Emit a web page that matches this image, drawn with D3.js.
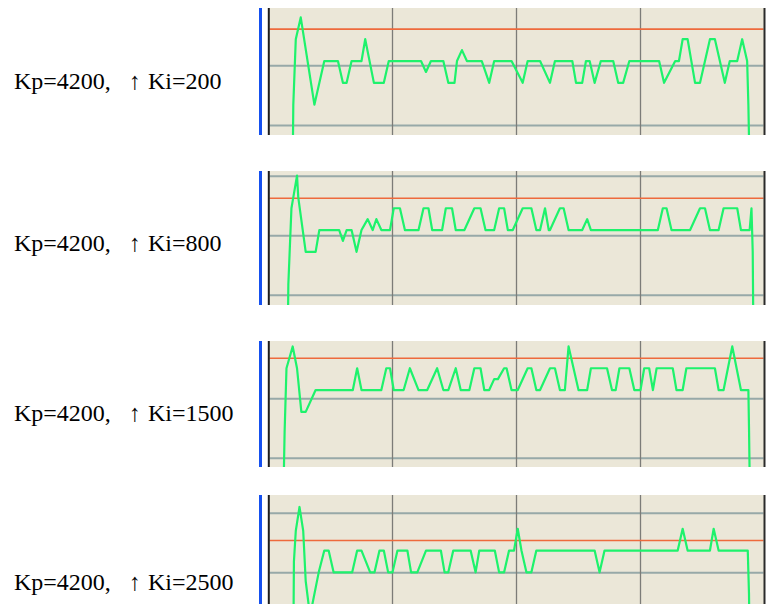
<!DOCTYPE html>
<html>
<head>
<meta charset="utf-8">
<script src="https://cdn.jsdelivr.net/npm/d3@7"></script>
<style>
  body { margin: 0; background: #fff; }
  svg { display: block; }
  .label { font-family: "Liberation Serif", "Times New Roman", serif; font-size: 24px; }
</style>
</head>
<body>
<div id="chart"></div>
<script>
/* speed step responses, Kp fixed, Ki stepped up */
var kp = 4200;
var kiValues = [200, 800, 1500, 2500];
var setpoint = 1.46;                       // reference level (encoder counts)
var timeTicks = [0, 100, 200, 300, 400];   // ms, one scope division each
var gridStep = 2.73;                       // counts per scope division
var gridBase = [-0.22, -0.26, -0.40, -0.02];
var viewMax = [2.43, 2.71, 2.25, 3.55];
var viewMin = [-3.39, -3.44, -3.53, -1.82];

// [time ms, speed counts]
var trace200 = [[19,-8],[20,-2],[22,1],[26,2],[37,-2],[45,0],[56,0],[60,-1],[63,-1],[67,0],[75,0],[78,1],[85,-1],[93,-1],[97,0],
  [123,0],[127,-0.5],[131,0],[141,0],[145,-1],[150,-1],[152,0],[156,0.5],[160,0],[172,0],[178,-1],[182,0],[196,0],[205,-1],[209,0],
  [219,0],[227,-1],[231,0],[245,0],[248,-1],[253,-1],[256,0],[259,0],[263,-1],[268,0],[278,0],[282,-1],[286,-1],[291,0],[315,0],
  [319,-1],[328,0],[331,0],[334,1],[338,1],[344,-1],[348,-1],[356,1],[360,1],[368,-1],[372,0],[378,0],[382,1],[386,0],[387,-2],[389,-8]];

var trace800 = [[15,-8],[16,-2.5],[18.5,1],[20,1.5],[23,2.5],[24,1.5],[30,-1],[38,-1],[41,0],[57,0],[60,-0.5],[63,0],[67,0],[71,-1],
  [75,0],[80,0.5],[84,0],[87,0.5],[91,0],[98,0],[101,1],[106,1],[110,0],[121,0],[125,1],[129,1],[132,0],[140,0],[143,1],[148,1],
  [151,0],[158,0],[166,1],[171,1],[175,0],[182,0],[186,1],[190,1],[193,0],[197,0],[205,1],[212,1],[216,0],[219,0],[223,1],[226,0],
  [227,0],[235,1],[238,1],[242,0],[253,0],[257,0.5],[260,0],[314,0],[318,1],[321,1],[325,0],[340,0],[348,1],[352,1],[356,0],[363,0],
  [367,1],[378,1],[381,0],[388,0],[389.5,1],[390.5,-1],[391.5,-8]];

var trace1500 = [[11,-8],[13,-1.9],[14.5,1],[19.5,2],[23,1],[26.5,-1],[30,-1],[38,0],[68,0],[71.5,1],[75,0],[91,0],[95,1],[98,1],
  [101,0],[109,0],[114,1],[121,0],[128,0],[136,1],[141,0],[145,0],[151,1],[155,0],[162,0],[166,1],[171,1],[174,0],[178,0],[182,0.5],
  [185,0.5],[190,1],[192,1],[196,0],[201,0],[209,1],[212,1],[216,0],[219,0],[227,1],[231,1],[235,0],[239,0],[242,2],[250,0],[257,0],
  [260,1],[273,1],[277,0],[280,0],[283,1],[291,1],[295,0],[300,0],[303,1],[307,1],[310,0],[313,1],[326,1],[329,0],[334,0],[337,1],
  [360,1],[363,0],[367,0],[374,2],[381,0],[387,0],[387.5,-1.7],[389,-8]];

var trace2500 = [[19.5,-8],[20.5,0.5],[22,1.9],[25,3],[28,1.9],[30,-0.4],[33.5,-2],[40.5,0],[45,1],[48.5,1],[52.5,0],[67.5,0],
  [71.5,1],[75,1],[82,0],[85.5,0],[89.5,1],[93,1],[96.5,0],[100,0],[104,1],[112,1],[115,0],[120,0],[127,1],[139,1],[142,0],[145,0],
  [149,1],[163,1],[167,0],[170,1],[182.5,1],[186,0],[190,0],[194,1],[198,1],[201,2],[204,1],[208,0],[212,0],[216,1],[263,1],[267,0],
  [271,1],[330,1],[334,2],[338,1],[356,1],[359,2],[363,1],[386.5,1],[387.5,-1],[389,-8]];

var traces = [trace200, trace800, trace1500, trace2500];

/* layout */
var width = 766, height = 604;
var panelTop = [8, 171, 341, 495];
var panelBottom = [135, 305, 467, 612];
var labelBase = [89, 251, 421, 590];

var svg = d3.select("#chart").append("svg")
    .attr("width", width)
    .attr("height", height);

var x = d3.scaleLinear()
    .domain([timeTicks[0], timeTicks[timeTicks.length - 1]])
    .range([268.5, 764.5]);

kiValues.forEach(function (ki, i) {
    var top = panelTop[i], bottom = panelBottom[i];
    var y = d3.scaleLinear().domain([viewMin[i], viewMax[i]]).range([bottom, top]);
    var g = svg.append("g").attr("class", "panel");

    g.append("clipPath").attr("id", "clip" + i)
      .append("rect")
        .attr("x", 269.5).attr("y", top)
        .attr("width", 494).attr("height", bottom - top);

    // blue edge strip
    g.append("rect")
        .attr("x", 259).attr("y", top)
        .attr("width", 3).attr("height", bottom - top)
        .attr("fill", "#1550ee");

    g.append("rect")
        .attr("x", 268).attr("y", top)
        .attr("width", 497).attr("height", bottom - top)
        .attr("fill", "#ebe7d8");

    var plot = g.append("g").attr("clip-path", "url(#clip" + i + ")");

    // horizontal scope grid
    var hLines = d3.range(-3, 4).map(function (k) { return gridBase[i] + k * gridStep; })
        .filter(function (v) { return v > viewMin[i] && v < viewMax[i]; });
    plot.selectAll("line.h").data(hLines).enter().append("line")
        .attr("class", "h")
        .attr("x1", x.range()[0]).attr("x2", x.range()[1])
        .attr("y1", function (d) { return y(d); })
        .attr("y2", function (d) { return y(d); })
        .attr("stroke", "#97a9a8").attr("stroke-width", 2);

    // vertical scope grid
    plot.selectAll("line.v").data(timeTicks.slice(1, -1)).enter().append("line")
        .attr("class", "v")
        .attr("x1", function (d) { return x(d); })
        .attr("x2", function (d) { return x(d); })
        .attr("y1", top).attr("y2", bottom)
        .attr("stroke", "#7c7c78").attr("stroke-width", 1.3);

    // reference
    plot.append("line")
        .attr("x1", x.range()[0]).attr("x2", x.range()[1])
        .attr("y1", y(setpoint)).attr("y2", y(setpoint))
        .attr("stroke", "#ee6a3c").attr("stroke-width", 1.6);

    var line = d3.line()
        .x(function (d) { return x(d[0]); })
        .y(function (d) { return y(d[1]); });

    plot.append("path")
        .datum(traces[i])
        .attr("d", line)
        .attr("fill", "none")
        .attr("stroke", "#1ef26c")
        .attr("stroke-width", 2.2)
        .attr("stroke-linejoin", "round");

    // frame edges
    g.append("line")
        .attr("x1", 268.8).attr("x2", 268.8).attr("y1", top).attr("y2", bottom)
        .attr("stroke", "#1c1c1c").attr("stroke-width", 2);
    g.append("line")
        .attr("x1", 764.5).attr("x2", 764.5).attr("y1", top).attr("y2", bottom)
        .attr("stroke", "#2a2a2a").attr("stroke-width", 2);

    // label
    var label = svg.append("text")
        .attr("class", "label")
        .attr("y", labelBase[i])
        .attr("fill", "#000");
    label.append("tspan").attr("x", 14).text("Kp=" + kp + ",");
    label.append("tspan").attr("x", 129).text("\u2191");
    label.append("tspan").attr("x", 148).text("Ki=" + ki);
});
</script>
</body>
</html>
